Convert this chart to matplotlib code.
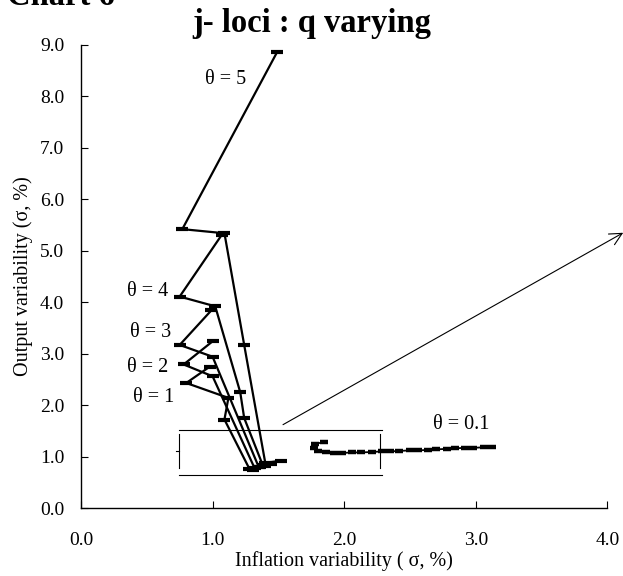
import matplotlib
matplotlib.use("Agg")
import matplotlib.pyplot as plt

plt.rcParams['font.family'] = ['Liberation Serif', 'DejaVu Serif']

# loci, one per theta value (inflation sigma, output sigma)
x_t5 = [1.49, 0.77, 1.09, 1.24, 1.40, 1.52]
y_t5 = [8.86, 5.42, 5.34, 3.17, 0.88, 0.92]
x_t4 = [1.07, 0.75, 1.02, 1.21, 1.24, 1.38, 1.44]
y_t4 = [5.31, 4.11, 3.92, 2.25, 1.75, 0.84, 0.86]
x_t3 = [0.99, 0.75, 1.00, 1.35, 1.40]
y_t3 = [3.84, 3.17, 2.94, 0.80, 0.82]
x_t2 = [1.00, 0.78, 1.00, 1.32, 1.36]
y_t2 = [3.24, 2.79, 2.56, 0.77, 0.79]
x_t1 = [0.98, 0.80, 1.12, 1.09, 1.28, 1.31]
y_t1 = [2.75, 2.43, 2.14, 1.72, 0.76, 0.73]
x_t01 = [1.85, 1.78, 1.77, 1.80, 1.86, 1.92, 1.98, 2.06, 2.13, 2.21, 2.29,
         2.35, 2.42, 2.50, 2.56, 2.64, 2.70, 2.78, 2.84, 2.92, 2.98, 3.06, 3.12]
y_t01 = [1.28, 1.25, 1.17, 1.11, 1.08, 1.07, 1.07, 1.08, 1.08, 1.09, 1.10,
         1.10, 1.11, 1.12, 1.12, 1.13, 1.14, 1.15, 1.16, 1.17, 1.17, 1.18, 1.19]

labels = ['θ = 5', 'θ = 4', 'θ = 3', 'θ = 2', 'θ = 1', 'θ = 0.1']
label_x = [1.10, 0.51, 0.53, 0.51, 0.555, 2.89]
label_y = [8.32, 4.21, 3.42, 2.74, 2.14, 1.63]

# zoom box and arrow drawn on the chart
box_x = [0.745, 2.29]
box_y = [0.65, 1.51]
box_side_y = [0.77, 1.43]
arrow_from = (1.535, 1.62)
arrow_to = (4.12, 5.35)

xticks = [0, 1, 2, 3, 4]
yticks = [0, 1, 2, 3, 4, 5, 6, 7, 8, 9]

fig = plt.figure(figsize=(6.23, 5.76), dpi=100)
ax = fig.add_axes([0.130, 0.118, 0.845, 0.804])

series = [(x_t5, y_t5), (x_t4, y_t4), (x_t3, y_t3), (x_t2, y_t2),
          (x_t1, y_t1)]
for xs, ys in series:
    ax.plot(xs, ys, color='k', lw=1.6, marker='_', ms=9, mew=3)
# theta = 0.1 has smaller dashes
ax.plot(x_t01, y_t01, color='k', lw=1.3, marker='_', ms=5.5, mew=3.2)

for t, lx, ly in zip(labels, label_x, label_y):
    ax.text(lx, ly, t, fontsize=14.5, ha='center', va='center')

# box
ax.plot(box_x, [box_y[0], box_y[0]], color='k', lw=0.8)
ax.plot(box_x, [box_y[1], box_y[1]], color='k', lw=0.8)
ax.plot([box_x[0], box_x[0]], box_side_y, color='k', lw=0.8)
ax.plot([box_x[1] - 0.02, box_x[1] - 0.02], box_side_y, color='k', lw=0.8)
ax.plot([box_x[0] - 0.02, box_x[0]], [sum(box_side_y) / 2] * 2, color='k', lw=0.8)

ax.annotate('', xy=arrow_to, xytext=arrow_from, annotation_clip=False,
            arrowprops=dict(arrowstyle='->', lw=0.8, color='k',
                            mutation_scale=22, shrinkA=0, shrinkB=0))

ax.set_xlim(0, 4)
ax.set_ylim(0, 9)
ax.set_xticks(xticks)
ax.set_yticks(yticks)
ax.set_xticklabels(['%.1f' % v for v in xticks], fontsize=14)
ax.set_yticklabels(['%.1f' % v for v in yticks], fontsize=14)
ax.tick_params(axis='x', direction='in', length=5, pad=17)
ax.tick_params(axis='y', direction='in', length=5, pad=12)
for s in ['top', 'right']:
    ax.spines[s].set_visible(False)
ax.spines['left'].set_linewidth(1.0)
ax.spines['bottom'].set_linewidth(1.0)

ax.set_xlabel('Inflation variability ( σ, %)', fontsize=14.5, labelpad=2)
ax.set_ylabel('Output variability (σ, %)', fontsize=14.5, labelpad=5)

fig.text(0.5, 1 - 32 / 576, 'j- loci : q varying', fontsize=23.5,
         weight='bold', ha='center', va='baseline')
fig.text(0.012, 1 - 5 / 576, 'Chart 6', fontsize=23.5, weight='bold',
         ha='left', va='baseline')

fig.savefig('out.png', dpi=100)
